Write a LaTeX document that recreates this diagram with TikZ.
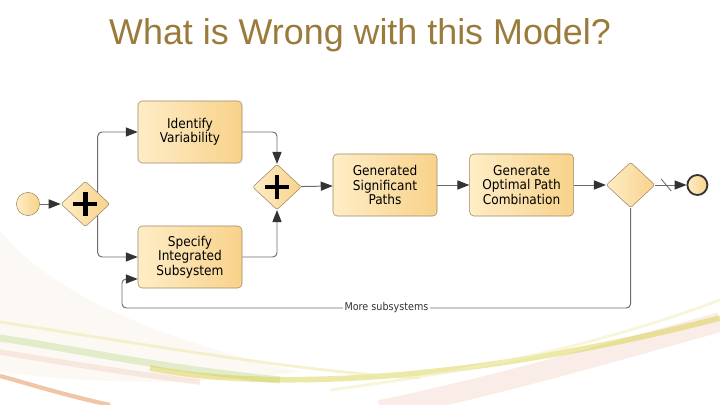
\documentclass[tikz,border=0pt]{standalone}
\usepackage{fontspec}
\setmainfont{Liberation Sans}
\newfontfamily\bpmnfont{DejaVu Sans Condensed}
\usetikzlibrary{arrows.meta, positioning, shapes.geometric, calc}
\definecolor{titleGold}{HTML}{9B7B3B}
\definecolor{taskLight}{HTML}{FEEDC6}
\definecolor{taskDark}{HTML}{F8D28A}
\definecolor{taskEdge}{HTML}{A08A6C}
\definecolor{flowGray}{HTML}{6C6C6C}
\definecolor{tipGray}{HTML}{333333}
\definecolor{swYellow}{HTML}{D6CC3A}
\definecolor{swGreen}{HTML}{C4DC98}
\definecolor{swOrange}{HTML}{E0803C}
\definecolor{swPink}{HTML}{F2CDBD}
\definecolor{swCream}{HTML}{F6EEDC}

\begin{document}
\begin{tikzpicture}[x=0.025cm, y=-0.025cm,
  task/.style={draw=taskEdge, rounded corners=3pt, left color=taskLight, right color=taskDark, minimum width=2.6cm, minimum height=1.55cm, inner sep=1pt, align=center, font=\bpmnfont\fontsize{9.6}{10.2}\selectfont},
  gate/.style={diamond, draw=taskEdge, rounded corners=1.5pt, left color=taskLight, right color=taskDark, minimum width=1.22cm, minimum height=1.14cm, inner sep=0pt},
  parallel/.style={gate, path picture={
    \draw[line width=3.3pt, black] ([xshift=-8.5pt]path picture bounding box.center) -- ([xshift=8.5pt]path picture bounding box.center)
      ([yshift=-8.5pt]path picture bounding box.center) -- ([yshift=8.5pt]path picture bounding box.center);}},
  event/.style={circle, draw=taskEdge, left color=taskLight, right color=taskDark, minimum size=0.58cm, inner sep=0pt},
  endevent/.style={event, draw=black!80, line width=1.3pt, minimum size=0.5cm},
  flow/.style={draw=flowGray, line width=0.7pt, -{Triangle[length=8.5pt, width=6.5pt, color=tipGray]}},
  looptext/.style={fill=white, inner sep=1pt, font=\bpmnfont\fontsize{7.6}{9}\selectfont, text=black!80},
]
  \useasboundingbox (0,0) rectangle (720,405);
  \fill[white] (0,0) rectangle (720,405);

  % background swooshes
  \fill[swCream, opacity=0.3] (0,230) .. controls (40,280) and (120,330) .. (300,372) .. controls (200,385) and (100,385) .. (0,372) -- cycle;
  \draw[swPink, line width=14pt, opacity=0.35] (380,410) .. controls (500,385) and (620,350) .. (720,322);
  \draw[swPink, line width=4pt, opacity=0.4] (0,352) .. controls (60,362) and (120,372) .. (200,382);
  \draw[swGreen, line width=5pt, opacity=0.45] (0,338) .. controls (80,350) and (160,368) .. (280,380);
  \draw[swYellow, line width=4pt, opacity=0.45] (150,368) .. controls (260,390) and (460,385) .. (720,318);
  \draw[swYellow!40, line width=2pt, opacity=0.6] (0,322) .. controls (150,345) and (300,372) .. (420,378);
  \draw[swYellow!30, line width=2pt, opacity=0.6] (330,390) .. controls (480,370) and (600,345) .. (720,300);
  \draw[swOrange, line width=3pt, opacity=0.45] (0,376) .. controls (30,384) and (60,394) .. (110,405);

  % title
  \node[anchor=base, font=\fontsize{25.5}{30}\selectfont, text=titleGold] (title) at (360,45) {What is Wrong with this Model?};

  % nodes
  \node[event] (start) at (28,204) {};
  \node[parallel, right=0.52cm of start] (gw1) {};
  \node[task] (ident) at (190,132) {Identify\\Variability};
  \node[task] (spec) at (190,257) {Specify\\Integrated\\Subsystem};
  \node[parallel] (gw2) at (277,187) {};
  \node[task] (gen) at (385,185) {Generated\\Significant\\Paths};
  \node[task, right=0.8cm of gen] (opt) {Generate\\Optimal Path\\Combination};
  \node[gate, right=0.8cm of opt] (gw3) {};
  \node[endevent, right=0.78cm of gw3] (endev) {};

  \coordinate (loopfoot) at (122,308);
  \coordinate (loopin) at ($(spec.west)+(0,22)$);

  % flows
  \draw[flow] (start) -- (gw1);
  \draw[flow, rounded corners=3pt] (gw1.north east) |- (ident);
  \draw[flow, rounded corners=3pt] (gw1.south east) |- (spec);
  \draw[flow, rounded corners=3pt] (ident) -| (gw2);
  \draw[flow, rounded corners=3pt] (spec) -| (gw2);
  \draw[flow] (gw2) -- (gen);
  \draw[flow] (gen) -- (opt);
  \draw[flow] (opt) -- (gw3);
  \draw[flow] (gw3) -- (endev);
  \path (gw3.east) -- (endev.west) coordinate[pos=0.35] (dflt);
  \draw[flowGray, line width=0.6pt] ($(dflt)+(-5,-6)$) -- ($(dflt)+(5,6)$);
  \draw[flow, rounded corners=3pt] (gw3.south) |- (loopfoot) node[pos=0.74, looptext] {More subsystems} |- (loopin);
\end{tikzpicture}
\end{document}
